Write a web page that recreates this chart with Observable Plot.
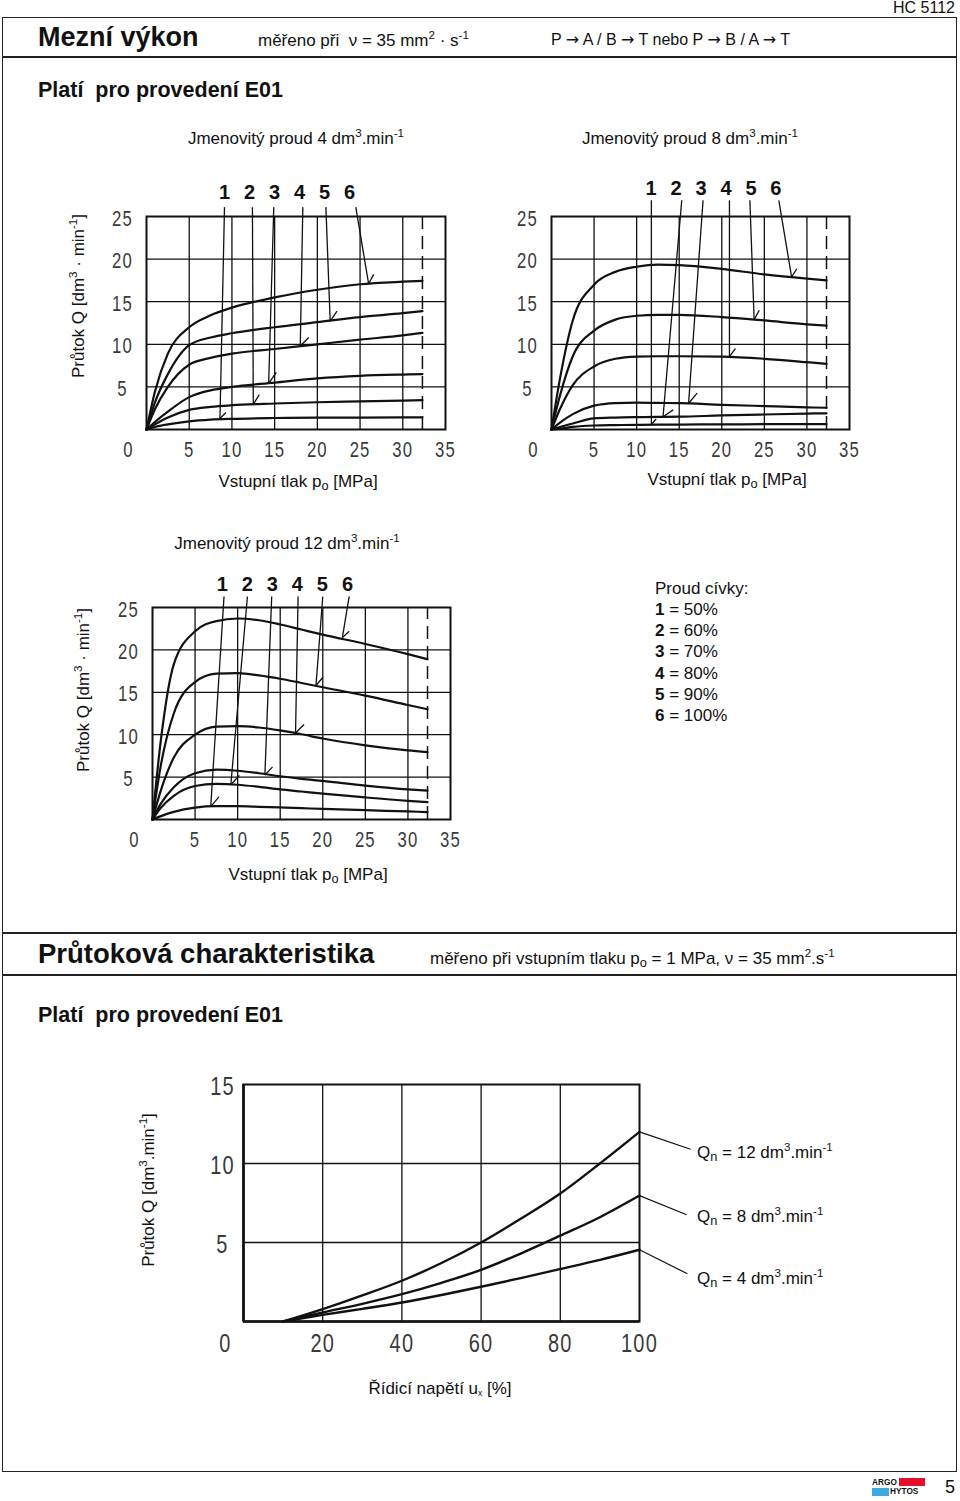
<!DOCTYPE html>
<html><head><meta charset="utf-8">
<script src="https://cdn.jsdelivr.net/npm/d3@7"></script>
<script src="https://cdn.jsdelivr.net/npm/@observablehq/plot@0.6"></script>
<style>
body{margin:0;background:#fff;}
#page{position:relative;width:960px;height:1501px;font-family:"Liberation Sans",Arial,Helvetica,sans-serif;color:#111;overflow:hidden;background:#fff}
.abs{position:absolute;white-space:nowrap;line-height:1}
.abs sup{font-size:0.68em;vertical-align:0.6em;line-height:0}
.abs sub{font-size:0.75em;vertical-align:-0.3em;line-height:0}
.arr{font-family:"DejaVu Sans",sans-serif;font-size:1em}
.rule{position:absolute;background:#222}
</style></head><body><div id="page"></div>
<script>
const INK = "#111";
const SANS = "Liberation Sans, Arial, sans-serif";
const NARROW = "Liberation Sans, Arial, sans-serif";

// ---- shared axis ticks / grid ----
const pressureTicks = [5, 10, 15, 20, 25, 30, 35];
const pressureGrid = [5, 10, 15, 20, 25, 30];
const flowTicks = [5, 10, 15, 20, 25];
const flowGrid = [5, 10, 15, 20];
const coilLevels = ["1", "2", "3", "4", "5", "6"];
const coilPercent = ["50%", "60%", "70%", "80%", "90%", "100%"];
const pressureLimit = 32.3;

// ---- Qn = 4 dm3/min ----
const pressureQ4 = [0, 1, 2.5, 5, 7.5, 10, 15, 20, 25, 30, 32.3];
const flowQ4 = [
  [0, 0.3, 0.6, 0.95, 1.15, 1.25, 1.35, 1.4, 1.4, 1.42, 1.42],
  [0, 0.6, 1.4, 2.3, 2.65, 2.85, 3.05, 3.2, 3.3, 3.4, 3.45],
  [0, 0.9, 2.1, 3.8, 4.6, 5.0, 5.5, 6.0, 6.3, 6.45, 6.5],
  [0, 2.4, 5.0, 7.6, 8.4, 8.9, 9.45, 10.0, 10.55, 11.05, 11.35],
  [0, 3.2, 6.5, 9.9, 10.8, 11.3, 12.0, 12.6, 13.2, 13.65, 13.9],
  [0, 4.5, 8.9, 12.0, 13.4, 14.3, 15.5, 16.4, 17.05, 17.35, 17.45]
];
const leadStartQ4 = [[9.13, 26.1], [12.4, 26.1], [14.9, 26.1], [18.3, 26.1], [21.0, 26.1], [24.5, 26.1]];
const leadEndQ4 = [[8.6, 1.3], [12.5, 2.95], [14.3, 5.4], [18.0, 9.8], [21.5, 12.7], [26.0, 17.1]];
const leadTickQ4 = [[9.3, 2.0], [13.2, 4.1], [15.2, 6.7], [19.0, 10.8], [22.3, 13.9], [26.6, 18.2]];
const numXQ4 = [9.13, 12.06, 14.99, 17.92, 20.85, 23.78];

// ---- Qn = 8 dm3/min ----
const pressureQ8 = [0, 1, 2.5, 5, 7.5, 10, 12.5, 15, 20, 25, 30, 32.3];
const flowQ8 = [
  [0, 0.1, 0.3, 0.47, 0.52, 0.55, 0.57, 0.58, 0.6, 0.62, 0.63, 0.63],
  [0, 0.3, 0.7, 1.3, 1.4, 1.45, 1.48, 1.5, 1.65, 1.76, 1.87, 1.9],
  [0, 0.8, 1.8, 2.8, 3.1, 3.15, 3.12, 3.1, 2.9, 2.75, 2.6, 2.55],
  [0, 2.4, 5.2, 7.4, 8.3, 8.55, 8.6, 8.6, 8.55, 8.3, 7.9, 7.7],
  [0, 4.0, 8.6, 11.6, 12.9, 13.35, 13.45, 13.45, 13.2, 12.8, 12.35, 12.2],
  [0, 6.0, 12.8, 17.0, 18.5, 19.1, 19.35, 19.3, 18.85, 18.2, 17.7, 17.5]
];
const leadStartQ8 = [[11.73, 26.9], [15.3, 26.9], [17.8, 26.9], [20.9, 26.9], [23.3, 26.9], [26.7, 26.9]];
const leadEndQ8 = [[11.73, 0.59], [13.1, 1.5], [16.1, 3.05], [20.9, 8.56], [23.8, 12.9], [28.2, 17.9]];
const leadTickQ8 = [[12.3, 1.25], [14.3, 2.3], [17.1, 4.26], [21.6, 9.5], [24.4, 14.0], [28.8, 18.85]];
const numXQ8 = [11.7, 14.63, 17.57, 20.5, 23.43, 26.36];

// ---- Qn = 12 dm3/min ----
const pressureQ12 = [0, 1, 2.5, 5, 7.5, 10, 12.5, 15, 17.5, 20, 25, 30, 32.3];
const flowQ12 = [
  [0, 0.4, 0.9, 1.4, 1.57, 1.57, 1.5, 1.42, 1.33, 1.25, 1.1, 0.95, 0.88],
  [0, 1.4, 2.8, 3.95, 4.2, 4.1, 3.85, 3.55, 3.3, 3.05, 2.6, 2.2, 2.05],
  [0, 1.9, 3.8, 5.45, 5.87, 5.75, 5.45, 5.1, 4.8, 4.55, 4.0, 3.55, 3.4],
  [0, 3.5, 7.3, 10.0, 10.95, 11.0, 10.85, 10.5, 10.05, 9.55, 8.75, 8.15, 7.95],
  [0, 6.5, 12.5, 16.2, 17.2, 17.25, 17.0, 16.6, 16.1, 15.6, 14.6, 13.5, 13.0],
  [0, 9.5, 18.3, 22.2, 23.4, 23.7, 23.5, 23.0, 22.4, 21.8, 20.7, 19.5, 18.9]
];
const leadStartQ12 = [[8.4, 26.3], [11.15, 26.3], [14.0, 26.3], [17.1, 26.3], [20.0, 26.3], [23.1, 26.3]];
const leadEndQ12 = [[6.84, 1.52], [9.2, 4.1], [13.2, 5.25], [16.8, 10.2], [19.2, 15.8], [22.3, 21.45]];
const leadTickQ12 = [[7.8, 2.66], [10.2, 5.2], [14.1, 6.2], [17.8, 11.2], [20.0, 16.75], [23.1, 22.2]];
const numXQ12 = [8.2, 11.15, 14.08, 17.0, 19.95, 22.9];

// ---- Flow characteristic ----
const controlSignal = [10, 20, 30, 40, 50, 60, 70, 80, 90, 100];
const flowQn12 = [0, 0.78, 1.65, 2.58, 3.7, 5.0, 6.5, 8.1, 10.0, 12.0];
const flowQn8 = [0, 0.57, 1.12, 1.73, 2.45, 3.27, 4.3, 5.43, 6.6, 7.97];
const flowQn4 = [0, 0.42, 0.8, 1.2, 1.68, 2.2, 2.75, 3.32, 3.9, 4.54];
const signalTicks = [20, 40, 60, 80, 100];
const signalGrid = [20, 40, 60, 80];
const charFlowTicks = [5, 10, 15];
const charFlowGrid = [5, 10];
const qnLabelPoints = [[112.9, 10.9], [111.9, 6.76], [112.1, 3.02]];
const qnNames = ["12", "8", "4"];

const page = document.getElementById("page");

function txt(html, x, y, o = {}) {
  const d = document.createElement("div");
  d.className = "abs";
  d.innerHTML = html;
  d.style.fontSize = (o.size || 17) + "px";
  d.style.fontWeight = o.weight || 400;
  d.style.left = x + "px";
  d.style.top = y + "px";
  const a = o.anchor || "left";
  const tx = a === "left" ? "0" : a === "center" ? "-50%" : "-100%";
  d.style.transform = o.rotate ? "translate(-50%,-50%) rotate(-90deg)" : `translate(${tx},-50%)`;
  page.appendChild(d);
  return d;
}
function rule(x, y, w, h) {
  const d = document.createElement("div");
  d.className = "rule";
  Object.assign(d.style, {left: x + "px", top: y + "px", width: w + "px", height: h + "px"});
  page.appendChild(d);
}
function place(svg, left, top) {
  svg.style.position = "absolute";
  svg.style.left = left + "px";
  svg.style.top = top + "px";
  page.appendChild(svg);
}
// narrow the technical-drawing tick digits (horizontal squeeze only)
function condense(svg, k) {
  svg.querySelectorAll('g[aria-description="tick-labels"] text').forEach(t => {
    const tr = t.getAttribute("transform");
    if (tr && tr.includes("translate")) t.setAttribute("transform", tr + ` scale(${k},1)`);
    t.style.letterSpacing = "1.5px";
  });
}

const tickFont = {fontFamily: NARROW, fontSize: 22, fill: "#3a3a3a", ariaDescription: "tick-labels"};

function pressureChart(cfg) {
  const rows = [];
  cfg.flows.forEach((ys, i) => ys.forEach((q, j) => rows.push({p: cfg.pressure[j], q, curve: i})));
  const leaders = cfg.leadStart.map((s, i) => ({
    x1: s[0], y1: s[1], x2: cfg.leadEnd[i][0], y2: cfg.leadEnd[i][1], x3: cfg.leadTick[i][0], y3: cfg.leadTick[i][1]
  }));
  const nums = coilLevels.map((t, i) => ({t, x: cfg.numX[i], y: cfg.numY}));
  const f = cfg.frame, b = cfg.box;
  const svg = Plot.plot({
    width: b.w, height: b.h,
    marginLeft: f.l - b.l, marginRight: b.l + b.w - f.r,
    marginTop: f.t - b.t, marginBottom: b.t + b.h - f.b,
    x: {domain: [0, 35], axis: null},
    y: {domain: [0, 25], axis: null},
    style: {background: "transparent", overflow: "visible"},
    marks: [
      Plot.ruleX(pressureGrid, {stroke: INK, strokeWidth: 1.3}),
      Plot.ruleY(flowGrid, {stroke: INK, strokeWidth: 1.3}),
      Plot.ruleX([pressureLimit], {y1: 0, y2: 25, stroke: INK, strokeWidth: 1.5, strokeDasharray: "13,7"}),
      Plot.frame({stroke: INK, strokeWidth: 2}),
      Plot.line(rows, {x: "p", y: "q", z: "curve", stroke: INK, strokeWidth: 2.2, curve: "monotone-x"}),
      Plot.link(leaders, {x1: "x1", y1: "y1", x2: "x2", y2: "y2", stroke: INK, strokeWidth: 1.3}),
      Plot.link(leaders, {x1: "x2", y1: "y2", x2: "x3", y2: "y3", stroke: INK, strokeWidth: 1.3}),
      Plot.text(nums, {x: "x", y: "y", text: "t", fontSize: 20, fontWeight: "bold", fontFamily: SANS, fill: INK}),
      Plot.text(pressureTicks, {x: d => d, y: 0, dy: 20, text: d => String(d), ...tickFont}),
      Plot.text(flowTicks, {x: 0, y: d => d, dx: -24, dy: 2, text: d => String(d), ...tickFont}),
      Plot.text(["0"], {x: 0, y: 0, dx: -18, dy: 20, text: d => d, ...tickFont})
    ]
  });
  condense(svg, 0.76);
  place(svg, b.l, b.t);
}

// ---- page frame & headings ----
txt("HC 5112", 955, 8, {size: 16, anchor: "right"});
const border = document.createElement("div");
Object.assign(border.style, {position: "absolute", left: "2px", top: "17px", width: "953px", height: "1453px", border: "1.5px solid #222"});
page.appendChild(border);
rule(2, 56, 955, 1.5);
rule(2, 932, 955, 1.5);
rule(2, 974, 955, 1.5);

txt("Mezní výkon", 38, 37, {size: 27, weight: 700});
txt("měřeno při&nbsp; ν = 35 mm<sup>2</sup> · s<sup>-1</sup>", 258, 40, {size: 17});
txt("P <span class='arr'>→</span> A / B <span class='arr'>→</span> T nebo P <span class='arr'>→</span> B / A <span class='arr'>→</span> T", 551, 40, {size: 16});
txt("Platí&nbsp; pro provedení E01", 38, 91, {size: 21.5, weight: 700});

txt("Jmenovitý proud 4 dm<sup>3</sup>.min<sup>-1</sup>", 296, 138, {size: 17, anchor: "center"});
txt("Jmenovitý proud 8 dm<sup>3</sup>.min<sup>-1</sup>", 690, 138, {size: 17, anchor: "center"});
txt("Jmenovitý proud 12 dm<sup>3</sup>.min<sup>-1</sup>", 287, 543, {size: 17, anchor: "center"});

txt("Průtok Q [dm<sup>3</sup> · min<sup>-1</sup>]", 78, 296, {size: 17, rotate: true});
txt("Průtok Q [dm<sup>3</sup> · min<sup>-1</sup>]", 83, 690, {size: 17, rotate: true});
txt("Vstupní tlak p<sub>o</sub> [MPa]", 298, 481, {size: 17, anchor: "center"});
txt("Vstupní tlak p<sub>o</sub> [MPa]", 727, 479, {size: 17, anchor: "center"});
txt("Vstupní tlak p<sub>o</sub> [MPa]", 308, 874, {size: 17, anchor: "center"});

txt("Proud cívky:", 655, 588, {size: 17});
coilLevels.forEach((c, i) => txt(`<b>${c}</b> = ${coilPercent[i]}`, 655, 609 + i * 21.2, {size: 17}));

pressureChart({pressure: pressureQ4, flows: flowQ4, leadStart: leadStartQ4, leadEnd: leadEndQ4, leadTick: leadTickQ4,
  numX: numXQ4, numY: 27.8, frame: {l: 146, t: 216, r: 445, b: 429}, box: {l: 90, t: 170, w: 380, h: 300}});
pressureChart({pressure: pressureQ8, flows: flowQ8, leadStart: leadStartQ8, leadEnd: leadEndQ8, leadTick: leadTickQ8,
  numX: numXQ8, numY: 28.25, frame: {l: 551, t: 216, r: 849, b: 429}, box: {l: 495, t: 170, w: 380, h: 300}});
pressureChart({pressure: pressureQ12, flows: flowQ12, leadStart: leadStartQ12, leadEnd: leadEndQ12, leadTick: leadTickQ12,
  numX: numXQ12, numY: 27.7, frame: {l: 152, t: 607, r: 450, b: 819}, box: {l: 96, t: 560, w: 380, h: 300}});

// ---- Flow characteristic section ----
txt("Průtoková charakteristika", 38, 954, {size: 27.5, weight: 700});
txt("měřeno při vstupním tlaku p<sub>o</sub> = 1 MPa, ν = 35 mm<sup>2</sup>.s<sup>-1</sup>", 430, 958, {size: 17});
txt("Platí&nbsp; pro provedení E01", 38, 1016, {size: 21.5, weight: 700});
txt("Průtok Q [dm<sup>3</sup>.min<sup>-1</sup>]", 148, 1190, {size: 17, rotate: true});
txt("Řídicí napětí u<sub style='font-size:0.5em'>x</sub> [%]", 440, 1388, {size: 17, anchor: "center"});
qnNames.forEach((n, i) => txt(`Q<sub>n</sub> = ${n} dm<sup>3</sup>.min<sup>-1</sup>`, 697, [1152, 1216, 1278][i], {size: 17}));

(function () {
  const series = [flowQn12, flowQn8, flowQn4];
  const rows = [];
  series.forEach((ys, i) => ys.forEach((q, j) => rows.push({u: controlSignal[j], q, s: i})));
  const leaders = series.map((ys, i) => ({x1: 100, y1: ys[ys.length - 1], x2: qnLabelPoints[i][0], y2: qnLabelPoints[i][1]}));
  const f = {l: 243, t: 1084, r: 639, b: 1321}, b = {l: 180, t: 1060, w: 530, h: 300};
  const bigTick = {fontFamily: NARROW, fontSize: 25, fill: "#3a3a3a", ariaDescription: "tick-labels"};
  const svg = Plot.plot({
    width: b.w, height: b.h,
    marginLeft: f.l - b.l, marginRight: b.l + b.w - f.r,
    marginTop: f.t - b.t, marginBottom: b.t + b.h - f.b,
    x: {domain: [0, 100], axis: null},
    y: {domain: [0, 15], axis: null},
    style: {background: "transparent", overflow: "visible"},
    marks: [
      Plot.ruleX(signalGrid, {stroke: INK, strokeWidth: 1.3}),
      Plot.ruleY(charFlowGrid, {stroke: INK, strokeWidth: 1.3}),
      Plot.frame({stroke: INK, strokeWidth: 2}),
      Plot.ruleX([0], {stroke: INK, strokeWidth: 2.6}),
      Plot.ruleY([0], {stroke: INK, strokeWidth: 2.6}),
      Plot.line(rows, {x: "u", y: "q", z: "s", stroke: INK, strokeWidth: 2.4, curve: "monotone-x"}),
      Plot.link(leaders, {x1: "x1", y1: "y1", x2: "x2", y2: "y2", stroke: INK, strokeWidth: 1.2}),
      Plot.text(signalTicks, {x: d => d, y: 0, dy: 22, text: d => String(d), ...bigTick}),
      Plot.text(charFlowTicks, {x: 0, y: d => d, dx: -21, dy: 2, text: d => String(d), ...bigTick}),
      Plot.text(["0"], {x: 0, y: 0, dx: -18, dy: 22, text: d => d, ...bigTick})
    ]
  });
  condense(svg, 0.8);
  place(svg, b.l, b.t);
})();

// ---- footer logo ----
(function () {
  const logo = document.createElement("div");
  logo.innerHTML = `
    <div style="position:absolute;left:872px;top:1478px;font:900 9px 'Liberation Sans',Arial;color:#111;line-height:9px;transform:scaleX(0.92);transform-origin:left">ARGO</div>
    <div style="position:absolute;left:899px;top:1478px;width:26px;height:8px;background:#e30f2b"></div>
    <div style="position:absolute;left:872px;top:1488px;width:17px;height:8px;background:#3ea9e1"></div>
    <div style="position:absolute;left:890px;top:1487px;font:900 9px 'Liberation Sans',Arial;color:#111;line-height:9px;transform:scaleX(0.92);transform-origin:left">HYTOS</div>`;
  page.appendChild(logo);
  txt("5", 950, 1487, {size: 18, anchor: "center"});
})();
</script></body></html>
